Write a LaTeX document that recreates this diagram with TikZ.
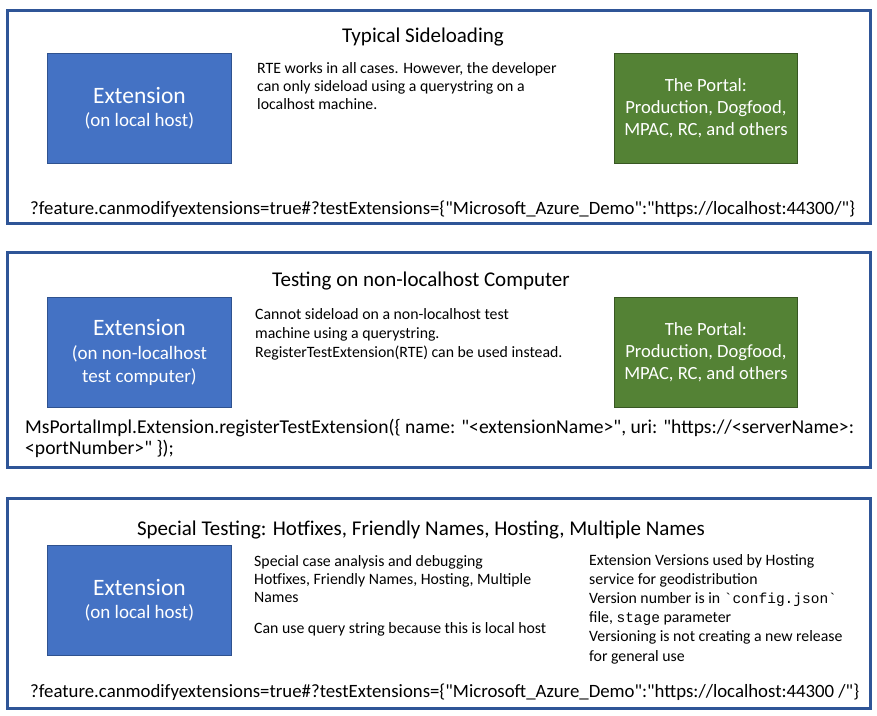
\documentclass[tikz,border=0pt]{standalone}
\usepackage{fontspec}
\setmainfont{Carlito}[Ligatures=TeXOff]
\setmonofont{Liberation Mono}
\definecolor{frameblue}{HTML}{2F5597}
\definecolor{extfill}{HTML}{4472C4}
\definecolor{extline}{HTML}{2F528F}
\definecolor{portfill}{HTML}{548235}
\definecolor{portline}{HTML}{385723}
\tikzset{
  panel/.style={draw=frameblue, line width=2.5pt, fill=white, anchor=north west, minimum width=863pt, inner sep=0pt},
  extbox/.style={draw=extline, line width=0.8pt, fill=extfill, text=white, anchor=north west, minimum width=184pt, minimum height=110pt, align=center, inner sep=0pt, font=\fontsize{19}{23}\selectfont},
  portbox/.style={draw=portline, line width=0.8pt, fill=portfill, text=white, anchor=north west, minimum width=183pt, minimum height=110pt, align=center, inner sep=0pt, font=\fontsize{18.6}{21.8}\selectfont},
  paneltitle/.style={font=\fontsize{21}{25}\selectfont, inner sep=0pt},
  bodytext/.style={font=\fontsize{15.8}{18.3}\selectfont, align=left, anchor=north west, inner sep=0pt},
  querytext/.style={font=\fontsize{18.8}{20}\selectfont, anchor=west, inner sep=0pt},
}
\newcommand{\extbig}{\fontsize{23.5}{23}\selectfont}
\begin{document}
\begin{tikzpicture}[x=1pt,y=-1pt]
\useasboundingbox (0,0) rectangle (877,715);
\fill[white] (0,0) rectangle (877,715);

% Panel 1
\node[panel, minimum height=213pt] (p1) at (6,9) {};
\node[paneltitle] (t1) at (423,37) {Typical Sideloading};
\node[extbox] (e1) at (47,53) {{\extbig Extension}\\(on local host)};
\node[portbox] (g1) at (614,53) {The Portal:\\Production, Dogfood,\\MPAC, RC, and others};
\node[bodytext] (b1) at (257,62) {RTE works in all cases. However, the developer\\can only sideload using a querystring on a\\localhost machine.};
\node[querytext] (q1) at (30,209) {?feature.canmodifyextensions=true\#?testExtensions=\{"Microsoft\_Azure\_Demo":"https://localhost:44300/"\}};

% Panel 2
\node[panel, minimum height=215pt] (p2) at (6,251) {};
\node[paneltitle] (t2) at (421,281) {Testing on non-localhost Computer};
\node[extbox] (e2) at (47,297) {{\extbig Extension}\\[1pt](on non-localhost\\test computer)};
\node[portbox] (g2) at (614,297) {The Portal:\\Production, Dogfood,\\MPAC, RC, and others};
\node[bodytext, font=\fontsize{15.8}{19}\selectfont] (b2) at (255,308) {Cannot sideload on a non-localhost test\\machine using a querystring.\\RegisterTestExtension(RTE) can be used instead.};
\node[anchor=north west, align=left, inner sep=0pt, font=\fontsize{19.6}{20.5}\selectfont] (q2) at (25,419) {MsPortalImpl.Extension.registerTestExtension(\{ name: "<extensionName>", uri: "https://<serverName>:\\<portNumber>" \});};

% Panel 3
\node[panel, minimum height=210pt] (p3) at (6,497) {};
\node[paneltitle] (t3) at (421,530) {Special Testing: Hotfixes, Friendly Names, Hosting, Multiple Names};
\node[extbox] (e3) at (47,545) {{\extbig Extension}\\(on local host)};
\node[bodytext] (b3) at (254,555) {Special case analysis and debugging\\Hotfixes, Friendly Names, Hosting, Multiple\\Names};
\node[bodytext] (b4) at (254,622) {Can use query string because this is local host};
\node[bodytext, font=\fontsize{15.8}{19.2}\selectfont] (b5) at (589,554) {Extension Versions used by Hosting\\service for geodistribution\\Version number is in {\ttfamily\fontsize{14.5}{19.2}\selectfont`config.json`}\\file, {\ttfamily\fontsize{14.5}{19.2}\selectfont stage} parameter\\Versioning is not creating a new release\\for general use};
\node[querytext] (q3) at (30,692) {?feature.canmodifyextensions=true\#?testExtensions=\{"Microsoft\_Azure\_Demo":"https://localhost:44300 /"\}};
\end{tikzpicture}
\end{document}
